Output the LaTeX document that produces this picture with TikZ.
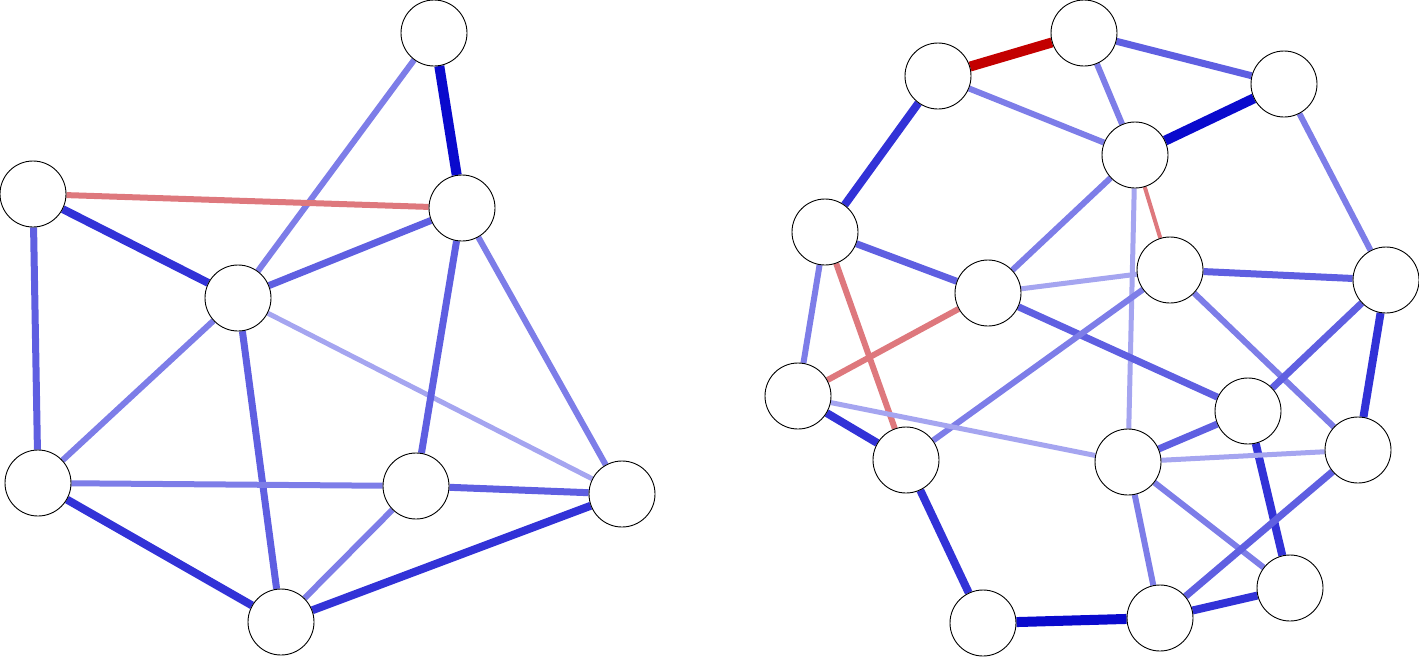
\documentclass[tikz,border=0pt]{standalone}
\usetikzlibrary{backgrounds}
\begin{document}
\begin{tikzpicture}[x=1pt,y=-1pt,
 nd/.style={circle,draw=black,fill=white,minimum size=66pt,inner sep=0pt,line width=0.9pt},
 eA/.style={line width=10pt,draw={rgb,255:red,10;green,10;blue,205}},
 eB/.style={line width=8pt,draw={rgb,255:red,50;green,50;blue,215}},
 eC/.style={line width=7pt,draw={rgb,255:red,95;green,95;blue,225}},
 eD/.style={line width=6pt,draw={rgb,255:red,125;green,125;blue,232}},
 eE/.style={line width=5pt,draw={rgb,255:red,165;green,165;blue,240}},
 rL/.style={line width=6pt,draw={rgb,255:red,222;green,120;blue,125}},
 rD/.style={line width=10pt,draw={rgb,255:red,195;green,0;blue,0}}]
\useasboundingbox (0,0) rectangle (1419,657);
\begin{scope}[every node/.style=nd]
\node (L1) at (434,33) {}; \node (L2) at (33,194) {}; \node (L3) at (462,208) {};
\node (L4) at (238,298) {}; \node (L5) at (38,483) {}; \node (L6) at (416,486) {};
\node (L7) at (622,494) {}; \node (L8) at (281,622) {};
\node (R1) at (1084,33) {}; \node (R2) at (938,76) {}; \node (R3) at (1284,84) {};
\node (R4) at (1135,155) {}; \node (R5) at (825,232) {}; \node (R6) at (1170,270) {};
\node (R7) at (988,293) {}; \node (R8) at (1386,280) {}; \node (R9) at (798,396) {};
\node (R10) at (1248,411) {}; \node (R11) at (906,460) {}; \node (R12) at (1128,462) {};
\node (R13) at (1358,450) {}; \node (R14) at (1290,588) {}; \node (R15) at (983,623) {};
\node (R16) at (1160,618) {};
\end{scope}
\begin{scope}[on background layer]
\draw[eA] (L1)--(L3);
\draw[eD] (L1)--(L4);
\draw[rL] (L2)--(L3);
\draw[eB] (L2)--(L4);
\draw[eC] (L2)--(L5);
\draw[eC] (L4)--(L3);
\draw[eD] (L4)--(L5);
\draw[eC] (L4)--(L8);
\draw[eE] (L4)--(L7);
\draw[eC] (L3)--(L6);
\draw[eD] (L3)--(L7);
\draw[eD] (L5)--(L6);
\draw[eB] (L5)--(L8);
\draw[eC] (L6)--(L7);
\draw[eD] (L6)--(L8);
\draw[eB] (L8)--(L7);
\draw[rD] (R2)--(R1);
\draw[eC] (R1)--(R3);
\draw[eD] (R1)--(R4);
\draw[eD] (R2)--(R4);
\draw[eA] (R4)--(R3);
\draw[eB] (R2)--(R5);
\draw[eD] (R3)--(R8);
\draw[line width=4pt,draw={rgb,255:red,222;green,120;blue,125}] (R4)--(R6);
\draw[eD] (R4)--(R7);
\draw[eE] (R4)--(R12);
\draw[eC] (R5)--(R7);
\draw[eD] (R5)--(R9);
\draw[rL] (R5)--(R11);
\draw[rL] (R7)--(R9);
\draw[eE] (R7)--(R6);
\draw[eC] (R7)--(R10);
\draw[eC] (R6)--(R8);
\draw[eD] (R6)--(R11);
\draw[eD] (R6)--(R13);
\draw[eC] (R8)--(R10);
\draw[eB] (R8)--(R13);
\draw[eB] (R9)--(R11);
\draw[eE] (R9)--(R12);
\draw[eC] (R10)--(R12);
\draw[eB] (R10)--(R14);
\draw[eE] (R12)--(R13);
\draw[eB] (R11)--(R15);
\draw[eA] (R15)--(R16);
\draw[eD] (R12)--(R16);
\draw[eD] (R12)--(R14);
\draw[eB] (R16)--(R14);
\draw[eC] (R13)--(R16);
\end{scope}
\end{tikzpicture}
\end{document}
